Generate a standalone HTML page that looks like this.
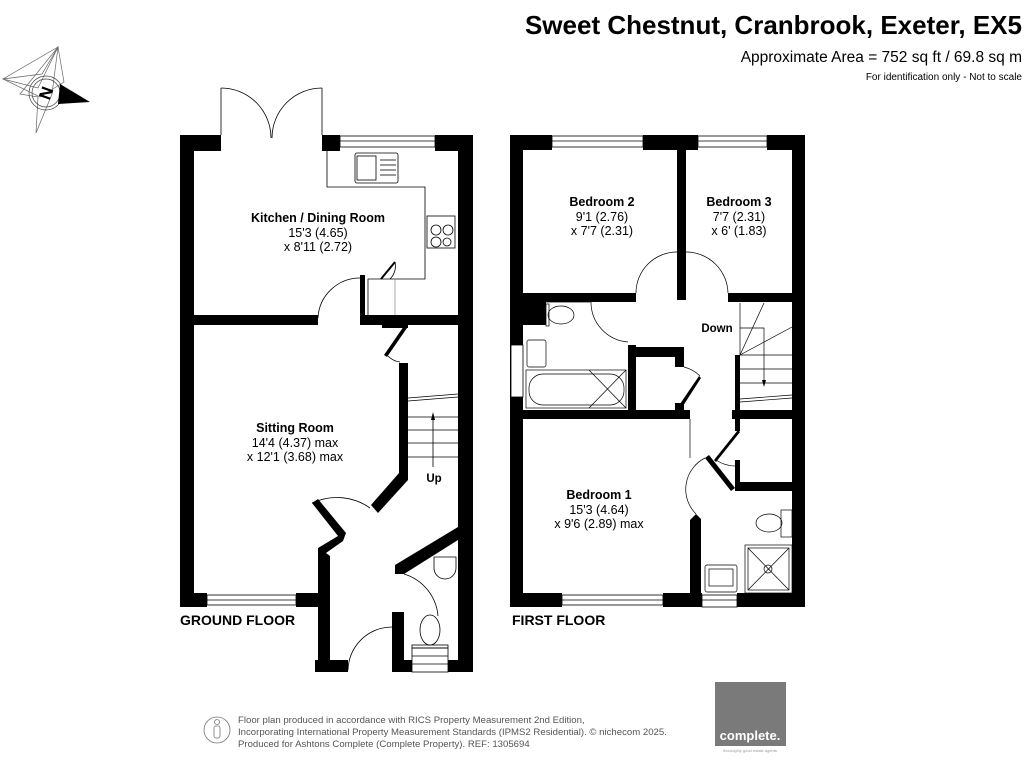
<!DOCTYPE html>
<html><head><meta charset="utf-8"><style>
html,body{margin:0;padding:0;background:#fff;}
svg{display:block;font-family:"Liberation Sans",Arial,sans-serif;}
</style></head><body>
<svg width="1024" height="768" viewBox="0 0 1024 768" xmlns="http://www.w3.org/2000/svg">
<!-- Header -->
<text x="1022" y="34" text-anchor="end" font-size="26" font-weight="bold">Sweet Chestnut, Cranbrook, Exeter, EX5</text>
<text x="1022" y="62" text-anchor="end" font-size="15.5">Approximate Area = 752 sq ft / 69.8 sq m</text>
<text x="1022" y="80" text-anchor="end" font-size="10">For identification only - Not to scale</text>

<!-- Compass -->
<g stroke="#666" stroke-width="0.7" fill="none">
<polygon points="58,47 64,82 40,97 3,79 42,74"/>
<polygon points="58,47 52,94 36,133 38,97 20,94"/>
<polygon points="3,79 38,88 58,47"/>
<circle cx="46" cy="93" r="17" stroke="#444"/>
<circle cx="46" cy="93" r="14" stroke="#444"/>
</g>
<polygon points="60,84 90,102 58,104" fill="#000"/>
<text x="46" y="99" text-anchor="middle" font-size="17" font-weight="bold" transform="rotate(-70 46 93)">N</text>

<!-- ===== GROUND FLOOR ===== -->
<g fill="#000">
<rect x="180" y="135" width="14" height="472"/>
<rect x="180" y="135" width="41" height="16"/>
<rect x="322" y="135" width="18" height="16"/>
<rect x="435" y="135" width="38" height="16"/>
<rect x="458" y="135" width="15" height="537"/>
<rect x="194" y="315" width="124" height="10"/>
<rect x="360" y="315" width="98" height="10"/>
<rect x="360" y="275" width="5" height="45"/>
<rect x="399" y="363" width="9" height="112"/>
<polygon points="399,475 408,475 408,480 378,513 371,505 399,473"/>
<rect x="382" y="325" width="26" height="3"/>
<rect x="180" y="593" width="27" height="14"/>
<rect x="296" y="593" width="24" height="14"/>
<polygon points="312,503 318,499 346,533 343,541 326,553 330,556 330,672 318,672 318,548 338,536"/>
<rect x="315" y="660" width="33" height="12"/>
<rect x="392" y="612" width="12" height="60"/>
<rect x="392" y="660" width="20" height="12"/>
<rect x="448" y="660" width="25" height="12"/>
<polygon points="395,565 458,527 458,540 404,574 395,574"/>
<polygon points="384,355 404,326 407,328 387,357"/>
</g>
<g fill="#fff" stroke="#000" stroke-width="0.8">
<rect x="340" y="136" width="95" height="11"/>
<line x1="340" y1="141" x2="435" y2="141"/>
<rect x="207" y="595" width="89" height="10"/>
<line x1="207" y1="600" x2="296" y2="600"/>
<rect x="412" y="648" width="36" height="24"/>
<line x1="412" y1="656" x2="448" y2="656"/><line x1="412" y1="664" x2="448" y2="664"/>
</g>
<g fill="none" stroke="#000" stroke-width="0.8">
<line x1="221" y1="88" x2="221" y2="135"/><line x1="322" y1="88" x2="322" y2="135"/>
<path d="M221,88 A50,50 0 0 1 271,138"/><path d="M322,88 A50,50 0 0 0 272,138"/>
<polyline points="327,151 327,187 425,187 425,279 368,279 368,315"/>
<rect x="355" y="153" width="43" height="30" rx="2"/>
<rect x="357" y="156" width="19" height="24"/>
<line x1="380" y1="160" x2="396" y2="160"/><line x1="380" y1="165" x2="396" y2="165"/><line x1="380" y1="170" x2="396" y2="170"/><line x1="380" y1="175" x2="396" y2="175"/>
<rect x="427" y="216" width="28" height="32"/>
<circle cx="436" cy="230" r="5"/><circle cx="448" cy="230" r="5"/><circle cx="436" cy="242" r="5"/><circle cx="447" cy="242" r="4"/>
<line x1="381" y1="279" x2="395" y2="262" stroke-width="2"/>
<path d="M395,262 A18,18 0 0 1 390,279"/>
<line x1="395" y1="279" x2="395" y2="315" stroke="#999"/>
<path d="M318,318 A42,42 0 0 1 360,278"/>
<path d="M388,356 A20,20 0 0 0 400,362"/>
<line x1="408" y1="398" x2="458" y2="394"/><line x1="408" y1="401" x2="458" y2="397"/>
<line x1="408" y1="417" x2="458" y2="417"/><line x1="408" y1="430" x2="458" y2="430"/>
<line x1="408" y1="443" x2="458" y2="443"/><line x1="408" y1="457" x2="458" y2="457"/>
<line x1="433" y1="467" x2="433" y2="418"/>
<path d="M312,503 A58,58 0 0 1 370,508"/>
<path d="M348,670 A44,44 0 0 1 392,627"/>
<path d="M404,574 A48,48 0 0 1 438,616"/>
<path d="M434,557 L456,557 L456,568 A11,11 0 0 1 434,568 Z"/>
<ellipse cx="430" cy="630" rx="10" ry="15"/>
<rect x="412" y="645" width="36" height="3"/>
</g>
<polygon points="433,412 431,420 435,420" fill="#000"/>
<text x="318" y="222" text-anchor="middle" font-size="12.5" font-weight="bold">Kitchen / Dining Room</text>
<text x="318" y="237" text-anchor="middle" font-size="12.5">15'3 (4.65)</text>
<text x="318" y="251" text-anchor="middle" font-size="12.5">x 8'11 (2.72)</text>
<text x="295" y="432" text-anchor="middle" font-size="12.5" font-weight="bold">Sitting Room</text>
<text x="295" y="447" text-anchor="middle" font-size="12.5">14'4 (4.37) max</text>
<text x="295" y="461" text-anchor="middle" font-size="12.5">x 12'1 (3.68) max</text>
<text x="434" y="482" text-anchor="middle" font-size="11.5" font-weight="bold">Up</text>
<text x="180" y="625" font-size="14" font-weight="bold">GROUND FLOOR</text>

<!-- ===== FIRST FLOOR ===== -->
<g fill="#000">
<rect x="510" y="135" width="13" height="472"/>
<rect x="510" y="135" width="42" height="15"/>
<rect x="643" y="135" width="55" height="15"/>
<rect x="767" y="135" width="38" height="15"/>
<rect x="792" y="135" width="13" height="472"/>
<rect x="677" y="150" width="9" height="150"/>
<rect x="523" y="293" width="113" height="9"/>
<rect x="728" y="293" width="64" height="9"/>
<rect x="523" y="302" width="23" height="23"/>
<rect x="628" y="345" width="8" height="65"/>
<rect x="636" y="347" width="48" height="10"/>
<rect x="675" y="357" width="9" height="10"/>
<rect x="675" y="403" width="9" height="8"/>
<rect x="510" y="410" width="180" height="9"/>
<rect x="735" y="355" width="5" height="55"/>
<rect x="732" y="410" width="60" height="9"/>
<rect x="735" y="419" width="5" height="12"/>
<rect x="735" y="460" width="5" height="30"/>
<rect x="735" y="482" width="57" height="9"/>
<polygon points="690,520 696,514 701,519 701,600 690,600"/>
<rect x="510" y="593" width="52" height="14"/>
<rect x="663" y="593" width="39" height="14"/>
<rect x="737" y="593" width="68" height="14"/>
<polygon points="680,404 699,376 701,378 683,406"/>
<polygon points="714,460 738,430 740,432 716,462"/>
<polygon points="705,458 709,455 735,488 731,491"/>
</g>
<g fill="#fff" stroke="#000" stroke-width="0.8">
<rect x="552" y="136" width="91" height="11"/><line x1="552" y1="141" x2="643" y2="141"/>
<rect x="698" y="136" width="69" height="11"/><line x1="698" y1="141" x2="767" y2="141"/>
<rect x="562" y="595" width="101" height="10"/><line x1="562" y1="600" x2="663" y2="600"/>
<rect x="702" y="595" width="35" height="12"/><line x1="702" y1="600" x2="737" y2="600"/>
<rect x="511" y="345" width="12" height="52"/>
</g>
<g fill="none" stroke="#000" stroke-width="0.7">
<path d="M636,293 A41,41 0 0 1 677,252"/>
<path d="M686,252 A42,42 0 0 1 728,293"/>
<line x1="546" y1="302" x2="591" y2="302"/>
<path d="M591,302 A40,40 0 0 0 628,342"/>
<path d="M684,367 A35,35 0 0 1 700,376"/>
<ellipse cx="561" cy="315" rx="13" ry="9"/>
<rect x="546" y="304" width="3" height="22"/>
<rect x="527" y="340" width="19" height="27" rx="2"/>
<rect x="526" y="370" width="100" height="38"/>
<rect x="529" y="374" width="95" height="31" rx="14"/>
<line x1="589" y1="370" x2="626" y2="408"/><line x1="626" y1="370" x2="589" y2="408"/>
<line x1="740" y1="303" x2="740" y2="355"/>
<polyline points="740,328 764,328 764,381"/>
<line x1="740" y1="355" x2="764" y2="303"/><line x1="740" y1="355" x2="792" y2="327"/>
<line x1="740" y1="355" x2="792" y2="355"/><line x1="740" y1="369" x2="792" y2="369"/>
<line x1="740" y1="383" x2="792" y2="383"/><line x1="740" y1="399" x2="792" y2="395"/>
<line x1="740" y1="402" x2="792" y2="398"/>
<line x1="690" y1="419" x2="690" y2="458"/>
<path d="M716,460 A35,35 0 0 0 736,466"/>
<path d="M705,458 A35,35 0 0 0 696,514"/>
<ellipse cx="769" cy="523" rx="13" ry="9"/>
<rect x="781" y="510" width="11" height="27"/>
<rect x="745" y="545" width="47" height="48"/>
<rect x="748" y="548" width="41" height="42"/>
<line x1="748" y1="548" x2="789" y2="590"/><line x1="789" y1="548" x2="748" y2="590"/>
<circle cx="768" cy="569" r="4"/>
<rect x="705" y="565" width="32" height="27" rx="2"/>
<rect x="709" y="569" width="24" height="17"/>
</g>
<polygon points="764,387 762,380 766,380" fill="#000"/>
<text x="602" y="206" text-anchor="middle" font-size="12.5" font-weight="bold">Bedroom 2</text>
<text x="602" y="221" text-anchor="middle" font-size="12.5">9'1 (2.76)</text>
<text x="602" y="235" text-anchor="middle" font-size="12.5">x 7'7 (2.31)</text>
<text x="739" y="206" text-anchor="middle" font-size="12.5" font-weight="bold">Bedroom 3</text>
<text x="739" y="221" text-anchor="middle" font-size="12.5">7'7 (2.31)</text>
<text x="739" y="235" text-anchor="middle" font-size="12.5">x 6' (1.83)</text>
<text x="717" y="332" text-anchor="middle" font-size="11.5" font-weight="bold">Down</text>
<text x="599" y="499" text-anchor="middle" font-size="12.5" font-weight="bold">Bedroom 1</text>
<text x="599" y="514" text-anchor="middle" font-size="12.5">15'3 (4.64)</text>
<text x="599" y="528" text-anchor="middle" font-size="12.5">x 9'6 (2.89) max</text>
<text x="512" y="625" font-size="14" font-weight="bold">FIRST FLOOR</text>

<!-- Footer -->
<g fill="none" stroke="#777" stroke-width="0.8">
<circle cx="217" cy="730" r="13"/>
<circle cx="217" cy="722" r="2.5"/>
<rect x="214" y="726" width="6" height="12" rx="2"/>
</g>
<g font-size="9.6" fill="#555">
<text x="238" y="723">Floor plan produced in accordance with RICS Property Measurement 2nd Edition,</text>
<text x="238" y="735">Incorporating International Property Measurement Standards (IPMS2 Residential).   © nichecom 2025.</text>
<text x="238" y="747">Produced for Ashtons Complete (Complete Property).   REF: 1305694</text>
</g>
<rect x="715" y="682" width="71" height="64" fill="#7a7a7a"/>
<text x="750" y="740" text-anchor="middle" font-size="13" font-weight="bold" fill="#fff">complete.</text>
<text x="750" y="752" text-anchor="middle" font-size="4" fill="#999">thoroughly good estate agents</text>
</svg>
</body></html>
